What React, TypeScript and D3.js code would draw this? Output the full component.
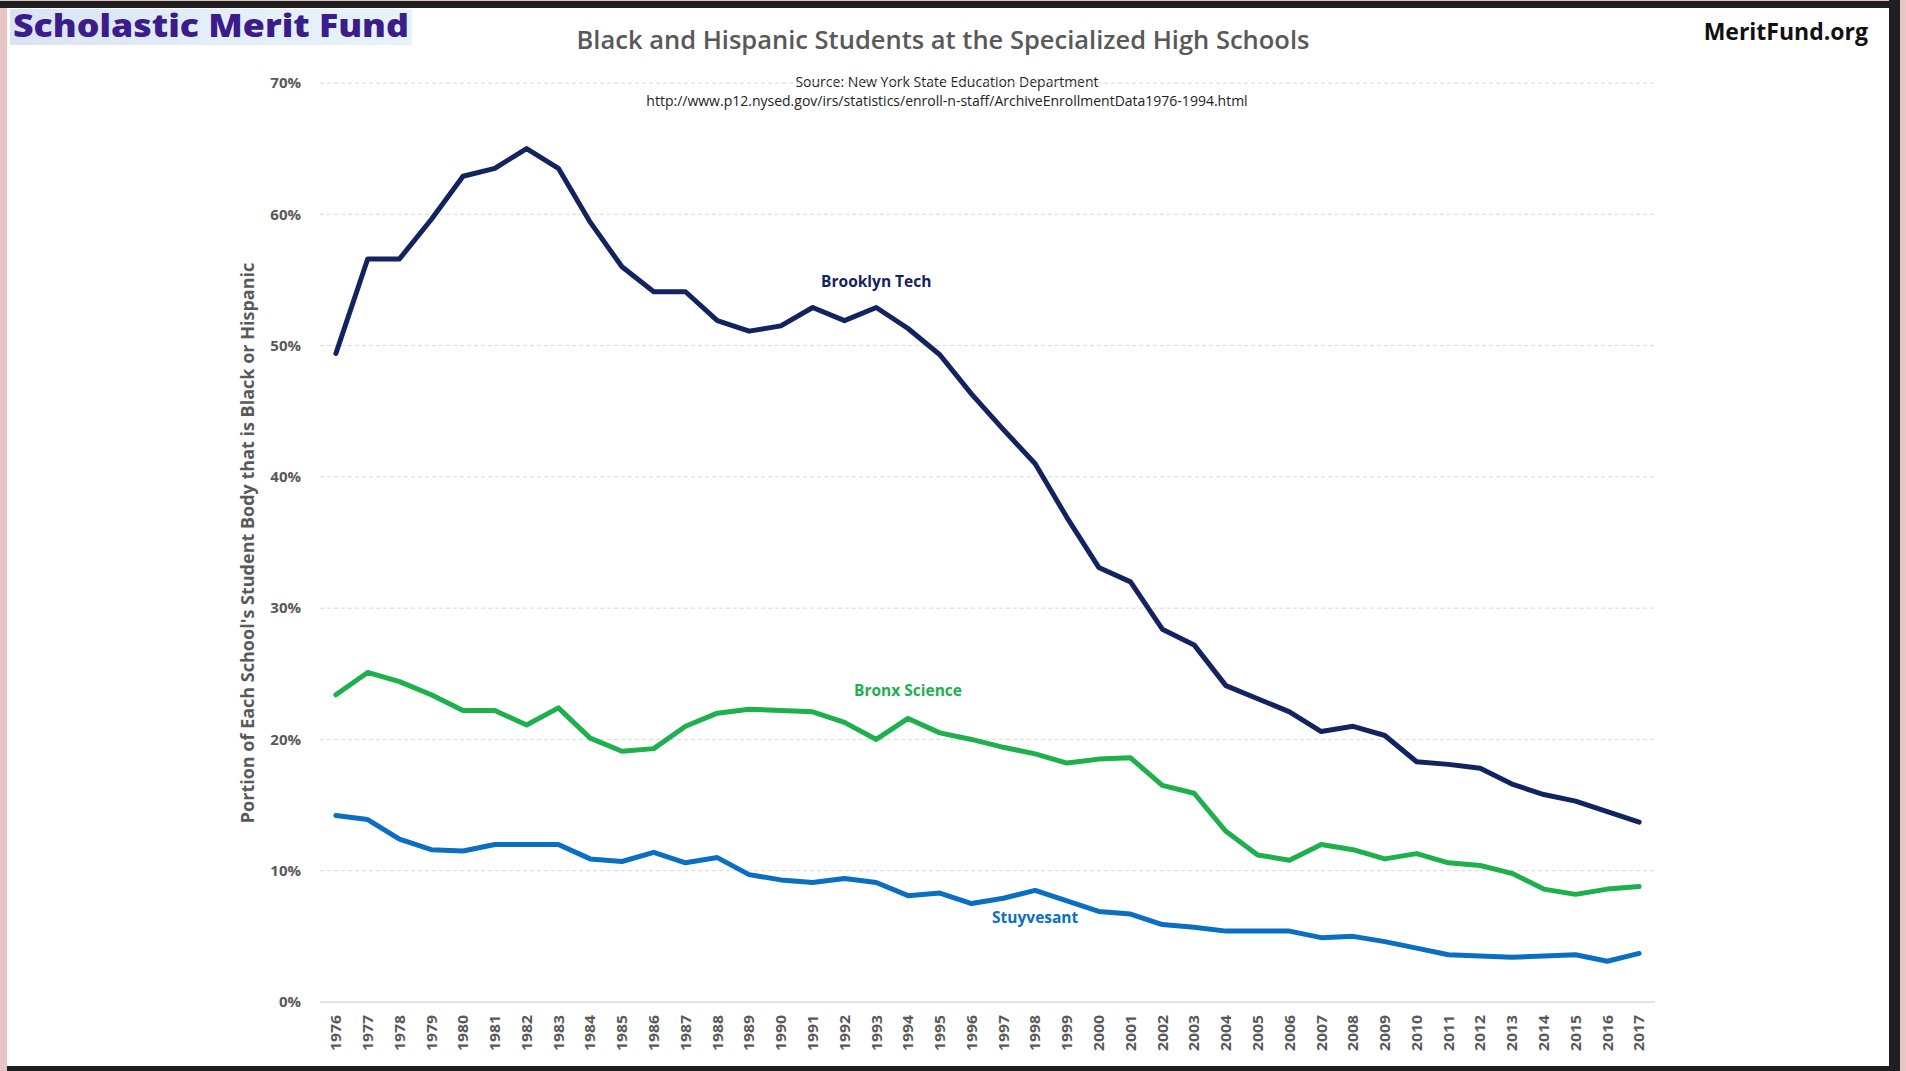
import * as d3 from 'd3';

const years = d3.range(1976, 2018).map(String);

// percent values
const brooklynTech = [
  49.4, 56.6, 56.6, 59.6, 62.9, 63.5, 65.0, 63.5, 59.4, 56.0,
  54.1, 54.1, 51.9, 51.1, 51.5, 52.9, 51.9, 52.9, 51.3, 49.3,
  46.3, 43.6, 41.0, 36.9, 33.1, 32.0, 28.4, 27.2, 24.1, 23.1,
  22.1, 20.6, 21.0, 20.3, 18.3, 18.1, 17.8, 16.6, 15.8, 15.3,
  14.5, 13.7,
];
const bronxScience = [
  23.4, 25.1, 24.4, 23.4, 22.2, 22.2, 21.1, 22.4, 20.1, 19.1,
  19.3, 21.0, 22.0, 22.3, 22.2, 22.1, 21.3, 20.0, 21.6, 20.5,
  20.0, 19.4, 18.9, 18.2, 18.5, 18.6, 16.5, 15.9, 13.0, 11.2,
  10.8, 12.0, 11.6, 10.9, 11.3, 10.6, 10.4, 9.8, 8.6, 8.2,
  8.6, 8.8,
];
const stuyvesant = [
  14.2, 13.9, 12.4, 11.6, 11.5, 12.0, 12.0, 12.0, 10.9, 10.7,
  11.4, 10.6, 11.0, 9.7, 9.3, 9.1, 9.4, 9.1, 8.1, 8.3,
  7.5, 7.9, 8.5, 7.7, 6.9, 6.7, 5.9, 5.7, 5.4, 5.4,
  5.4, 4.9, 5.0, 4.6, 4.1, 3.6, 3.5, 3.4, 3.5, 3.6,
  3.1, 3.7,
];
const yTicks = [0, 10, 20, 30, 40, 50, 60, 70];

const seriesNames = ['Brooklyn Tech', 'Bronx Science', 'Stuyvesant'];
const seriesValues = [brooklynTech, bronxScience, stuyvesant];
const seriesColors = ['#13235f', '#1db04c', '#0a6fc2'];
// where each series label sits (year, value)
const labelYears = ['1993', '1994', '1998'];
const labelValues = [54.9, 23.7, 6.4];

const W = 1906;
const H = 1071;
const gray = '#595959';
const font = '"Open Sans", sans-serif';

export default function App() {
  const x = d3.scalePoint<string>().domain(years).range([320, 1655]).padding(0.5);
  const y = d3.scaleLinear().domain([0, 70]).range([1002, 83]);

  const line = d3.line<number>()
    .x((_, i) => x(years[i]) as number)
    .y(d => y(d));

  return (
    <svg width={W} height={H} style={{ position: 'absolute', left: 0, top: 0 }} fontFamily={font}>
      <defs>
        <linearGradient id="logoBg" x1="0" x2="1" y1="0" y2="0">
          <stop offset="0" stopColor="#d9e3f3" />
          <stop offset="0.5" stopColor="#e4eef8" />
          <stop offset="1" stopColor="#e6f3fa" />
        </linearGradient>
      </defs>

      {/* screenshot frame */}
      <rect x={0} y={0} width={W} height={H} fill="#e9c6c6" />
      <rect x={0} y={1} width={1900} height={7} fill="#1f1f1f" />
      <rect x={1889} y={0} width={11} height={H} fill="#1f1f1f" />
      <rect x={7} y={1066} width={1893} height={5} fill="#1f1f1f" />
      <rect x={7} y={8} width={1882} height={1058} fill="#ffffff" />

      {/* logo */}
      <rect x={10} y={9} width={402} height={36} fill="url(#logoBg)" />
      <text x={13} y={37} fontSize={31} fontWeight={800} fill="#3a1c8a"
        textLength={396} lengthAdjust="spacingAndGlyphs">Scholastic Merit Fund</text>

      <text x={1868} y={40} textAnchor="end" fontSize={23} fontWeight={700} fill="#111">MeritFund.org</text>

      <text x={943} y={49} textAnchor="middle" fontSize={25.5} fontWeight={600} fill={gray}>
        Black and Hispanic Students at the Specialized High Schools
      </text>
      <text x={947} y={87} textAnchor="middle" fontSize={14} fill="#222">
        Source: New York State Education Department
      </text>
      <text x={947} y={106} textAnchor="middle" fontSize={14} fill="#222">
        http://www.p12.nysed.gov/irs/statistics/enroll-n-staff/ArchiveEnrollmentData1976-1994.html
      </text>

      {/* gridlines */}
      {yTicks.map(t => (
        <line key={t} x1={320} x2={1655} y1={y(t)} y2={y(t)}
          stroke="#d9d9d9" strokeWidth={t === 0 ? 1.5 : 1}
          strokeDasharray={t === 0 ? undefined : '4,3'} />
      ))}

      {/* y tick labels */}
      {yTicks.map(t => (
        <text key={t} x={301} y={y(t)} dy="0.35em" textAnchor="end"
          fontSize={15} fontWeight={700} fill={gray}>{t}%</text>
      ))}

      <text transform="translate(254,543) rotate(-90)" textAnchor="middle"
        fontSize={18} fontWeight={700} fill={gray}>
        Portion of Each School's Student Body that is Black or Hispanic
      </text>

      {/* x tick labels */}
      {years.map(yr => (
        <text key={yr} transform={`translate(${x(yr)},1015) rotate(-90)`} textAnchor="end"
          dy="0.35em" fontSize={15} fontWeight={700} fill={gray}
          textLength={36} lengthAdjust="spacingAndGlyphs">{yr}</text>
      ))}

      {/* series */}
      {seriesValues.map((vals, i) => (
        <path key={seriesNames[i]} d={line(vals) || ''} fill="none"
          stroke={seriesColors[i]} strokeWidth={5} strokeLinejoin="round" strokeLinecap="round" />
      ))}

      {seriesNames.map((name, i) => (
        <text key={name} x={x(labelYears[i])} y={y(labelValues[i])} dy="0.35em" textAnchor="middle"
          fontSize={15.5} fontWeight={700} fill={seriesColors[i]}>{name}</text>
      ))}
    </svg>
  );
}
